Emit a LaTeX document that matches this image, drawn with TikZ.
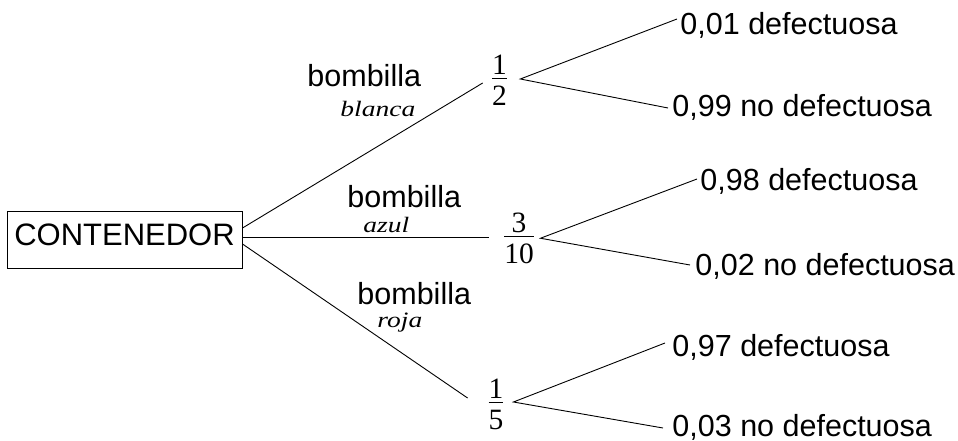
\documentclass[tikz,border=0pt]{standalone}
\usepackage{fontspec}
\setmainfont{Liberation Sans}
\newfontfamily\serifit[FakeStretch=1.25]{Liberation Serif}
\newfontfamily\seriffr{Liberation Serif}
\newcommand\myfrac[2]{\vbox{\halign{\hfil##\hfil\cr #1\cr\noalign{\kern4pt\hrule height 1pt\kern6.5pt}#2\cr}}}
\begin{document}
\begin{tikzpicture}[x=1pt,y=-1pt, line width=0.9pt,
  lbl/.style={inner sep=0pt, anchor=base west, font=\fontsize{30.5}{36}\selectfont},
  sublbl/.style={inner sep=0pt, anchor=base west, font=\serifit\itshape\fontsize{22}{26}\selectfont},
  frc/.style={inner sep=0pt, font=\seriffr\fontsize{29.5}{34}\selectfont},
  boxnode/.style={draw, line width=1pt, minimum width=235pt, minimum height=57pt, inner sep=0pt, text depth=9pt, font=\fontsize{31}{36}\selectfont}]
\useasboundingbox (0,0) rectangle (958,441);
\node[boxnode] (c) at (124.5,239.5) {CONTENEDOR};

\node[frc] (f1) at (499.5,80.25) {\myfrac{1}{2}};
\node[frc] (f2) at (519,238.25) {\myfrac{3}{10}};
\node[frc] (f3) at (496,404.25) {\myfrac{1}{5}};

\node[lbl] (b1) at (307,87) {bombilla};
\node[sublbl] (s1) at (340,117) {blanca};
\node[lbl] (b2) at (347,207) {bombilla};
\node[sublbl] (s2) at (363,232) {azul};
\node[lbl] (b3) at (357,304) {bombilla};
\node[sublbl] (s3) at (377,327) {roja};

\node[lbl] (d1) at (680,35) {0,01 defectuosa};
\node[lbl] (n1) at (672,117) {0,99 no defectuosa};
\node[lbl] (d2) at (700,190) {0,98 defectuosa};
\node[lbl] (n2) at (695,275) {0,02 no defectuosa};
\node[lbl] (d3) at (672,356) {0,97 defectuosa};
\node[lbl] (n3) at (672,436) {0,03 no defectuosa};

\draw ([yshift=11.5pt]c.east) -- ([xshift=-9pt,yshift=-2.75pt]f1.west);
\draw ([yshift=2.5pt]c.east) -- ([xshift=-15.25pt,yshift=1.25pt]f2.west);
\draw ([yshift=-4.5pt]c.east) -- ([xshift=-20.6pt,yshift=6.25pt]f3.west);

\draw ([xshift=-3pt,yshift=16pt]d1.base west) -- ([xshift=13pt,yshift=1.25pt]f1.east) -- ([xshift=-4pt,yshift=9pt]n1.base west);
\draw ([xshift=-3pt,yshift=11pt]d2.base west) -- ([xshift=6.25pt]f2.east) -- ([xshift=-5pt,yshift=10pt]n2.base west);
\draw ([xshift=-7pt,yshift=13pt]d3.base west) -- ([xshift=9.6pt,yshift=2.25pt]f3.east) -- ([xshift=-9pt,yshift=8pt]n3.base west);
\end{tikzpicture}
\end{document}
